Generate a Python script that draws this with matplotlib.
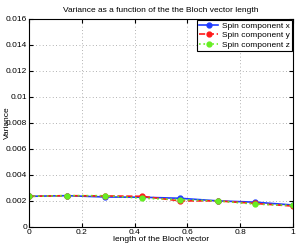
import matplotlib
matplotlib.use('Agg')
import matplotlib.pyplot as plt
from matplotlib.ticker import FuncFormatter

plt.rcParams['font.family'] = ['Liberation Sans', 'DejaVu Sans']

# data
bloch_len = [0, 1/7, 2/7, 3/7, 4/7, 5/7, 6/7, 1]
var_x = [0.00235, 0.0024, 0.0023, 0.00228, 0.0022, 0.0020, 0.0019, 0.00168]
var_y = [0.00235, 0.0024, 0.00238, 0.00235, 0.0020, 0.0020, 0.0018, 0.0016]
var_z = [0.00235, 0.0024, 0.0024, 0.0022, 0.0021, 0.0020, 0.00175, 0.00165]
labels = ['Spin component x', 'Spin component y', 'Spin component z']

fs = 6
fig = plt.figure(figsize=(3.0, 2.48), dpi=100)
ax = fig.add_axes([0.097, 0.085, 0.88, 0.84])

ax.plot(bloch_len, var_x, '-', color='#1f3cff', marker='o', markersize=3.5, linewidth=1.2, label=labels[0])
ax.plot(bloch_len, var_y, '--', color='#ff1a1a', marker='o', markersize=3.5, linewidth=1.2, label=labels[1])
ax.plot(bloch_len, var_z, ':', color='#66ee22', marker='o', markersize=3.5, linewidth=1.2, label=labels[2])

ax.set_xlim(0, 1)
ax.set_ylim(0, 0.016)
ax.set_xticks([0, 0.2, 0.4, 0.6, 0.8, 1])
ax.set_yticks([0, 0.002, 0.004, 0.006, 0.008, 0.01, 0.012, 0.014, 0.016])
ax.xaxis.set_major_formatter(FuncFormatter(lambda v, p: '%g' % v))
ax.yaxis.set_major_formatter(FuncFormatter(lambda v, p: '%g' % v))
ax.tick_params(direction='in', top=True, right=True, labelsize=fs, length=3, pad=1.5)
ax.grid(True, linestyle=(0, (1, 3)), color='#999999', linewidth=0.6)

ax.set_title('Variance as a function of the the Bloch vector length', fontsize=fs, pad=5)
ax.set_xlabel('length of the Bloch vector', fontsize=fs, labelpad=0)
ax.set_ylabel('Variance', fontsize=fs)
ax.yaxis.set_label_coords(-0.07, 0.5)

leg = ax.legend(loc='upper right', fontsize=fs, fancybox=False, edgecolor='black',
                borderpad=0.25, labelspacing=0.2, handlelength=2.2, handletextpad=0.5,
                borderaxespad=0.15, framealpha=1)
leg.get_frame().set_linewidth(0.8)

fig.savefig('out.png', dpi=100)
